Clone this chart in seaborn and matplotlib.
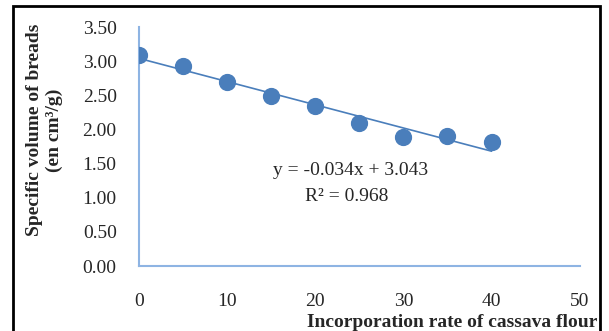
import numpy as np
import pandas as pd
import matplotlib
matplotlib.use("Agg")
import matplotlib.pyplot as plt
import seaborn as sns
from matplotlib.patches import Rectangle

# data
rate = [0, 5, 10, 15, 20, 25, 30, 35, 40]
volume = [3.094, 2.935, 2.697, 2.489, 2.340, 2.102, 1.885, 1.913, 1.813]
xticks = [0, 10, 20, 30, 40, 50]
yticks = [0.0, 0.5, 1.0, 1.5, 2.0, 2.5, 3.0, 3.5]

df = pd.DataFrame({"rate": rate, "volume": volume})

sns.set_style("white")
plt.rcParams["font.family"] = ["Liberation Serif", "DejaVu Serif"]

pt_col = "#4A7EBB"
ax_col = "#8EB4E3"

fig = plt.figure(figsize=(6.09, 3.31), dpi=100)
ax = fig.add_axes([0.228, 0.196, 0.724, 0.722])

sns.regplot(data=df, x="rate", y="volume", ci=None, ax=ax,
            scatter_kws={"s": 130, "color": pt_col, "alpha": 1, "zorder": 3,
                         "edgecolor": pt_col},
            line_kws={"color": pt_col, "lw": 1.2})

# trendline equation
slope, icpt = np.polyfit(df.rate, df.volume, 1)
r2 = np.corrcoef(df.rate, df.volume)[0, 1] ** 2
ax.text(0.48, 0.40, f"y = {slope:.3f}x + {icpt:.3f}", transform=ax.transAxes,
        ha="center", va="center", fontsize=14)
ax.text(0.471, 0.29, f"R\u00b2 = {r2:.3f}", transform=ax.transAxes,
        ha="center", va="center", fontsize=14)

ax.set_xlim(0, 50)
ax.set_ylim(0, 3.5)
ax.set_xticks(xticks)
ax.set_yticks(yticks)
ax.set_yticklabels([f"{v:.2f}" for v in yticks])
ax.tick_params(axis="both", length=0, labelsize=14)
ax.tick_params(axis="y", pad=16)
ax.tick_params(axis="x", pad=19)

for s in ["top", "right"]:
    ax.spines[s].set_visible(False)
for s in ["left", "bottom"]:
    ax.spines[s].set_color(ax_col)
    ax.spines[s].set_linewidth(1.5)

ax.set_xlabel("")
ax.set_ylabel("Specific volume of breads\n(en cm\u00b3/g)", fontsize=14,
              fontweight="bold", linespacing=1.2)
ax.yaxis.set_label_coords(-0.172, 0.57)

fig.text(0.981, 0.027, "Incorporation rate of cassava flour", ha="right",
         va="center", fontsize=14, fontweight="bold")

fig.patches.append(Rectangle((13 / 609, -0.05), 587 / 609, 0.05 + 1 - 6 / 331,
                             transform=fig.transFigure, fill=False,
                             edgecolor="black", lw=2))

fig.savefig("out.png", dpi=100)
